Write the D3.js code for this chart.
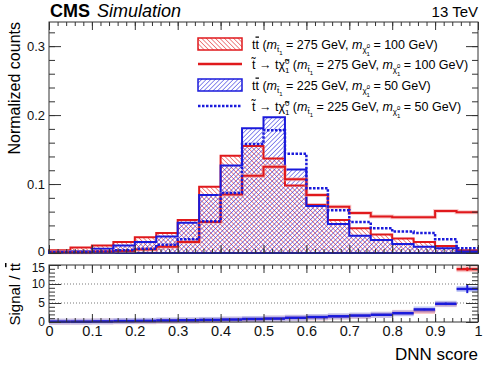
<!DOCTYPE html>
<html>
<head>
<meta charset="utf-8">
<script src="https://cdn.jsdelivr.net/npm/d3@7"></script>
<style>
  body { margin: 0; background: #fff; }
  svg { font-family: "Liberation Sans", Arial, sans-serif; }
  .axis path { display: none; }
  .axis line { stroke: #333; }
</style>
</head>
<body>
<svg id="chart" width="498" height="366"></svg>
<script>
// bin lower edges of the DNN score
const binLow = [0, 0.05, 0.1, 0.15, 0.2, 0.25, 0.3, 0.35, 0.4, 0.45, 0.5, 0.55, 0.6, 0.65, 0.7, 0.75, 0.8, 0.85, 0.9, 0.95];
const binWidth = 0.05;

// normalized counts
const ttRed  = [0.004, 0.008, 0.011, 0.016, 0.023, 0.029, 0.048, 0.096, 0.141, 0.155, 0.137, 0.098, 0.070, 0.048, 0.036, 0.027, 0.021, 0.016, 0.010, 0.004];
const ttBlue = [0.002, 0.003, 0.006, 0.011, 0.016, 0.024, 0.044, 0.084, 0.127, 0.181, 0.197, 0.121, 0.068, 0.042, 0.025, 0.019, 0.013, 0.009, 0.007, 0.002];
const sigRed = [0.001, 0.001, 0.002, 0.003, 0.005, 0.009, 0.016, 0.045, 0.085, 0.112, 0.125, 0.107, 0.084, 0.067, 0.058, 0.053, 0.052, 0.052, 0.061, 0.059];
const sigBlue = [0.001, 0.001, 0.002, 0.004, 0.006, 0.012, 0.020, 0.046, 0.087, 0.158, 0.178, 0.144, 0.094, 0.062, 0.045, 0.036, 0.031, 0.029, 0.020, 0.007];

// ratio signal / ttbar
const ratioRed  = [0.05, 0.1, 0.15, 0.2, 0.2, 0.3, 0.35, 0.45, 0.6, 0.7, 0.9, 1.1, 1.2, 1.4, 1.6, 1.9, 2.4, 2.9, 4.7, 13.9];
const ratioRedErr = [0, 0, 0, 0, 0, 0, 0, 0, 0, 0, 0, 0, 0, 0, 0, 0, 0.1, 0.15, 0.3, 0.5];
const ratioBlue = [0.1, 0.1, 0.15, 0.25, 0.3, 0.4, 0.45, 0.55, 0.65, 0.8, 0.9, 1.1, 1.3, 1.5, 1.7, 1.9, 2.3, 3.3, 4.8, 8.7];
const ratioBlueErr = [0, 0, 0, 0, 0, 0, 0, 0, 0, 0, 0, 0, 0, 0, 0, 0, 0.1, 0.2, 0.3, 1.1];

const mainTicks = [0, 0.1, 0.2, 0.3];
const ratioTicks = [0, 5, 10, 15];
const xTicks = [0, 0.1, 0.2, 0.3, 0.4, 0.5, 0.6, 0.7, 0.8, 0.9, 1];

const RED = "#e0191c", BLUE = "#1a1adb";

const svg = d3.select("#chart");
const left = 49, right = 478;

const x = d3.scaleLinear().domain([0, 1]).range([left, right]);
const y = d3.scaleLinear().domain([0, 0.335]).range([253, 22]);
const yr = d3.scaleLinear().domain([0, 15]).range([322, 265]);

// hatch patterns
const defs = svg.append("defs");
function hatch(id, color, angle) {
  defs.append("pattern")
      .attr("id", id)
      .attr("patternUnits", "userSpaceOnUse")
      .attr("width", 3.2).attr("height", 3.2)
      .attr("patternTransform", `rotate(${angle})`)
    .append("line")
      .attr("x1", 0).attr("y1", 0).attr("x2", 0).attr("y2", 3.2)
      .attr("stroke", color).attr("stroke-width", 1);
}
hatch("hRed", RED, -45);
hatch("hBlue", BLUE, 45);

// step helpers
const stepPts = vals => binLow.map((b, i) => [b, vals[i]]).concat([[1, vals[vals.length - 1]]]);
const area = d3.area().curve(d3.curveStepAfter).x(d => x(d[0])).y0(y(0)).y1(d => y(d[1]));
const line = d3.line().curve(d3.curveStepAfter).x(d => x(d[0])).y(d => y(d[1]));

const plot = svg.append("g");

// ttbar hists
plot.append("path").attr("d", area(stepPts(ttRed))).attr("fill", "url(#hRed)");
plot.append("path").attr("d", area(stepPts(ttBlue))).attr("fill", "url(#hBlue)");
plot.append("path").attr("d", area(stepPts(ttRed))).attr("fill", "none").attr("stroke", RED).attr("stroke-width", 2);
plot.append("path").attr("d", area(stepPts(ttBlue))).attr("fill", "none").attr("stroke", BLUE).attr("stroke-width", 2);

// signal bands + lines
plot.append("path").attr("d", line(stepPts(sigRed))).attr("fill", "none")
    .attr("stroke", "#f4a6a6").attr("stroke-width", 4).attr("opacity", 0.6);
plot.append("path").attr("d", line(stepPts(sigRed))).attr("fill", "none")
    .attr("stroke", RED).attr("stroke-width", 2);
plot.append("path").attr("d", line(stepPts(sigBlue))).attr("fill", "none")
    .attr("stroke", BLUE).attr("stroke-width", 2.5).attr("stroke-dasharray", "2.5,1.5");

// frame, ticks and labels of one panel
function axes(g, yScale, major, minor, top, bottom, showX, yFmt) {
  g.append("g").attr("class", "axis").attr("transform", `translate(${left},0)`)
    .call(d3.axisLeft(yScale).tickValues(minor).tickSize(-6).tickFormat(""));
  const lab = g.append("g").attr("class", "axis").attr("transform", `translate(${left},0)`)
    .call(d3.axisLeft(yScale).tickValues(major).tickSize(-12).tickPadding(4).tickFormat(yFmt));
  g.append("g").attr("class", "axis").attr("transform", `translate(${right},0)`)
    .call(d3.axisRight(yScale).tickValues(minor).tickSize(-6).tickFormat(""));
  g.append("g").attr("class", "axis").attr("transform", `translate(${right},0)`)
    .call(d3.axisRight(yScale).tickValues(major).tickSize(-12).tickFormat(""));
  const xMinor = d3.range(0, 1.001, 0.02);
  g.append("g").attr("class", "axis").attr("transform", `translate(0,${top})`)
    .call(d3.axisTop(x).tickValues(xMinor).tickSize(-4).tickFormat(""));
  g.append("g").attr("class", "axis").attr("transform", `translate(0,${top})`)
    .call(d3.axisTop(x).tickValues(xTicks).tickSize(-8).tickFormat(""));
  g.append("g").attr("class", "axis").attr("transform", `translate(0,${bottom})`)
    .call(d3.axisBottom(x).tickValues(xMinor).tickSize(-4).tickFormat(""));
  const xb = g.append("g").attr("class", "axis").attr("transform", `translate(0,${bottom})`)
    .call(d3.axisBottom(x).tickValues(xTicks).tickSize(-8).tickPadding(4).tickFormat(showX ? d3.format("") : ""));
  g.append("rect").attr("x", left).attr("y", top).attr("width", right - left).attr("height", bottom - top)
    .attr("fill", "none").attr("stroke", "#333").attr("stroke-width", 1);
  return [lab, xb];
}

const gMain = svg.append("g");
const [mainY] = axes(gMain, y, mainTicks, d3.range(0, 0.335, 0.02), 22, 253, false, d3.format(""));
mainY.selectAll("text").attr("font-size", 13).attr("fill", "#111");
mainY.selectAll("text").filter(d => d === 0).attr("dy", "0.2em");

// ratio panel
const gRatio = svg.append("g");
gRatio.selectAll(".grid").data([5, 10]).enter().append("line")
  .attr("x1", left).attr("x2", right).attr("y1", d => yr(d)).attr("y2", d => yr(d))
  .attr("stroke", "#555").attr("stroke-width", 0.8).attr("stroke-dasharray", "1,2");

function ratioSeries(vals, errs, color, band) {
  const g = gRatio.append("g");
  g.selectAll(".band").data(vals).enter().append("rect")
    .attr("x", (d, i) => x(binLow[i])).attr("width", x(binWidth) - x(0))
    .attr("y", d => yr(d) - 3).attr("height", 6).attr("fill", band).attr("opacity", 0.7);
  g.selectAll(".seg").data(vals).enter().append("line")
    .attr("x1", (d, i) => x(binLow[i])).attr("x2", (d, i) => x(binLow[i] + binWidth))
    .attr("y1", d => yr(d)).attr("y2", d => yr(d))
    .attr("stroke", color).attr("stroke-width", 2.5);
  g.selectAll(".err").data(vals).enter().append("line")
    .attr("x1", (d, i) => x(binLow[i] + binWidth / 2)).attr("x2", (d, i) => x(binLow[i] + binWidth / 2))
    .attr("y1", (d, i) => yr(d - errs[i])).attr("y2", (d, i) => yr(d + errs[i]))
    .attr("stroke", color).attr("stroke-width", 2);
}
ratioSeries(ratioRed, ratioRedErr, RED, "#f6b3b3");
ratioSeries(ratioBlue, ratioBlueErr, BLUE, "#aab4f2");

const [ratioY, ratioX] = axes(gRatio, yr, ratioTicks, d3.range(0, 15.01, 1), 265, 322, true, d3.format(""));
ratioY.selectAll("text").attr("font-size", 12).attr("fill", "#111");
ratioY.selectAll("text").filter(d => d === 15).attr("dy", "0.5em");
ratioX.selectAll("text").attr("font-size", 14.5).attr("fill", "#111");

// titles
svg.append("text").attr("x", left + 1).attr("y", 17).attr("font-size", 18).attr("font-weight", "bold").text("CMS");
svg.append("text").attr("x", 97).attr("y", 17).attr("font-size", 18).attr("font-style", "italic").text("Simulation");
svg.append("text").attr("x", right).attr("y", 17).attr("font-size", 15).attr("text-anchor", "end").text("13 TeV");

svg.append("text").attr("transform", "translate(20,22) rotate(-90)").attr("text-anchor", "end")
  .attr("font-size", 16).text("Normalized counts");
const rl = svg.append("text").attr("transform", "translate(20,263) rotate(-90)").attr("text-anchor", "end")
  .attr("font-size", 15);
rl.append("tspan").text("Signal / t");
rl.append("tspan").attr("text-decoration", "overline").text("t");
svg.append("text").attr("x", right).attr("y", 360).attr("text-anchor", "end")
  .attr("font-size", 17).text("DNN score");

// legend
const legendRows = [
  { kind: "hist", color: RED, fill: "url(#hRed)", proc: "tt", m1: "275", m2: "100" },
  { kind: "line", color: RED, dash: null, proc: "sig", m1: "275", m2: "100" },
  { kind: "hist", color: BLUE, fill: "url(#hBlue)", proc: "tt", m1: "225", m2: "50" },
  { kind: "line", color: BLUE, dash: "2.5,1.5", proc: "sig", m1: "225", m2: "50" }
];
const rowY = [44, 64, 85, 106];
const fs = 12.5, sub = 8, sub2 = 6;

legendRows.forEach((r, i) => {
  const cy = rowY[i];
  if (r.kind === "hist") {
    svg.append("rect").attr("x", 198).attr("y", cy - 6).attr("width", 44).attr("height", 12)
      .attr("fill", r.fill).attr("stroke", r.color).attr("stroke-width", 1.5);
  } else {
    svg.append("line").attr("x1", 198).attr("x2", 242).attr("y1", cy).attr("y2", cy)
      .attr("stroke", r.color).attr("stroke-width", 2.5).attr("stroke-dasharray", r.dash);
  }
  // rich text segments: [text, size, baseline offset, italic, dx, overline]
  let parts;
  if (r.proc === "tt") {
    parts = [["t", fs, 0], ["t", fs, 0, false, 0, true], [" (", fs, 0]];
  } else {
    parts = [["t\u0303 \u2192 t\u03C7\u0303", fs, 0], ["0", sub, -5], ["1", sub, 4, false, -4.5], [" (", fs, 0]];
  }
  parts = parts.concat([
    ["m", fs, 0, true], ["t\u0303", sub, 3], ["1", sub2, 6],
    [` = ${r.m1} GeV, `, fs, 0],
    ["m", fs, 0, true], ["\u03C7\u0303", sub, 3], ["0", sub2, -1], ["1", sub2, 7, false, -3.4],
    [` = ${r.m2} GeV)`, fs, 0]
  ]);
  const t = svg.append("text").attr("x", 252).attr("y", cy + 4.5).attr("font-size", fs);
  let cur = 0;
  parts.forEach(p => {
    const ts = t.append("tspan").attr("font-size", p[1]).attr("dy", p[2] - cur).text(p[0]);
    if (p[3]) ts.attr("font-style", "italic");
    if (p[4]) ts.attr("dx", p[4]);
    if (p[5]) ts.attr("text-decoration", "overline");
    cur = p[2];
  });
});
</script>
</body>
</html>
